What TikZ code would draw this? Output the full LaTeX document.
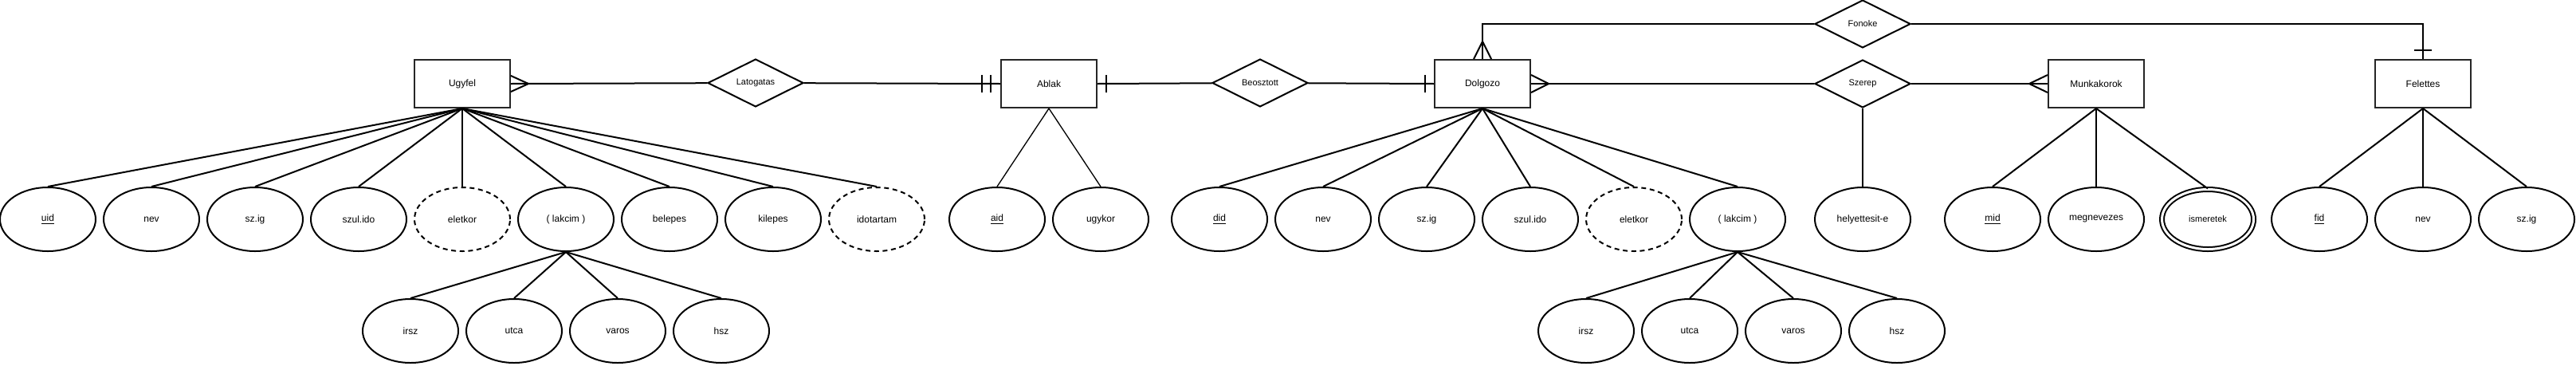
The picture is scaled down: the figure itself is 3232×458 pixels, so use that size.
\documentclass[tikz,border=0pt]{standalone}
\usepackage{fontspec}
\setmainfont{Liberation Sans}
\usetikzlibrary{shapes.geometric}

\tikzset{
  entity/.style={draw=black!85,minimum width=90pt,minimum height=45pt,inner sep=0pt,font=\fontsize{9}{11}\selectfont},
  relation/.style={diamond,draw,aspect=2,minimum width=90pt,minimum height=45pt,inner sep=0pt,font=\fontsize{8.25}{10}\selectfont},
  attrib/.style={ellipse,draw,minimum width=90pt,minimum height=60pt,inner sep=0pt,font=\fontsize{9}{11}\selectfont},
  derived/.style={attrib,dash pattern=on 4.5pt off 3.5pt},
  multival/.style={attrib,minimum width=86.25pt,minimum height=56.25pt,double,double distance=2.25pt,font=\fontsize{8.25}{10}\selectfont}
}

\begin{document}
\begin{tikzpicture}
[x=0.75pt,y=-0.75pt,line width=1.5pt,node distance=97.5pt]
 \useasboundingbox (0,0) rectangle (3232,458);

 % entities and relations
 \node[entity] (ugyfel) at (580,105) {Ugyfel};
 \node[entity] (ablak) at (1316,105) {Ablak};
 \node[entity] (dolgozo) at (1860,105) {Dolgozo};
 \node[entity] (munkakorok) at (2630,105) {Munkakorok};
 \node[entity] (felettes) at (3040,105) {Felettes};

 \node[relation] (latogatas) at (948,104) {Latogatas};
 \node[relation] (beosztott) at (1581,104) {Beosztott};
 \node[relation] (szerep) at (2337,105) {Szerep};
 \node[relation] (fonoke) at (2337,30) {Fonoke};

 % Ugyfel attributes
 \node[attrib] (uid) at (60,275) {\underline{uid}};
 \node[attrib] (unev) [right of=uid] {nev};
 \node[attrib] (uszig) [right of=unev] {sz.ig};
 \node[attrib] (uszul) [right of=uszig] {szul.ido};
 \node[derived] (ukor) [right of=uszul] {eletkor};
 \node[attrib] (ulak) [right of=ukor] {( lakcim )};
 \node[attrib] (ube) [right of=ulak] {belepes};
 \node[attrib] (uki) [right of=ube] {kilepes};
 \node[derived] (uido) [right of=uki] {idotartam};

 \node[attrib] (uirsz) at (515,415) {irsz};
 \node[attrib] (uutca) [right of=uirsz] {utca};
 \node[attrib] (uvaros) [right of=uutca] {varos};
 \node[attrib] (uhsz) [right of=uvaros] {hsz};

 % Ablak attributes
 \node[attrib] (aid) at (1251,275) {\underline{aid}};
 \node[attrib] (ugykor) [right of=aid] {ugykor};

 % Dolgozo attributes
 \node[attrib] (did) at (1530,275) {\underline{did}};
 \node[attrib] (dnev) [right of=did] {nev};
 \node[attrib] (dszig) [right of=dnev] {sz.ig};
 \node[attrib] (dszul) [right of=dszig] {szul.ido};
 \node[derived] (dkor) [right of=dszul] {eletkor};
 \node[attrib] (dlak) [right of=dkor] {( lakcim )};

 \node[attrib] (dirsz) at (1990,415) {irsz};
 \node[attrib] (dutca) [right of=dirsz] {utca};
 \node[attrib] (dvaros) [right of=dutca] {varos};
 \node[attrib] (dhsz) [right of=dvaros] {hsz};

 \node[attrib] (helyett) at (2337,275) {helyettesit-e};

 % Munkakorok and Felettes attributes
 \node[attrib] (mid) at (2500,275) {\underline{mid}};
 \node[attrib] (megnev) [right of=mid] {megnevezes};
 \node[multival] (ismeret) at (2770,275) {ismeretek};

 \node[attrib] (fid) at (2910,275) {\underline{fid}};
 \node[attrib] (fnev) [right of=fid] {nev};
 \node[attrib] (fszig) [right of=fnev] {sz.ig};

 % relationship lines
 \draw (ugyfel.east) -- (latogatas);
 \draw (latogatas) -- (ablak.west);
 \draw (ablak.east) -- (beosztott);
 \draw (beosztott) -- (dolgozo.west);
 \draw (dolgozo.east) -- (szerep);
 \draw (szerep) -- (munkakorok.west);
 \draw (dolgozo.north) |- (fonoke);
 \draw (fonoke) -| (felettes.north);
 \draw (szerep) -- (helyett);

 % crow's feet and bars
 \draw (ugyfel.east) ++(0,-10) -- ++(22,10) -- ++(-22,10);
 \draw (dolgozo.east) ++(0,-11) -- ++(22,11) -- ++(-22,11);
 \draw (munkakorok.west) ++(0,-11) -- ++(-23,11) -- ++(23,11);
 \draw (dolgozo.north) ++(-11,0) -- ++(11,-22) -- ++(11,22);
 \draw (ablak.west) ++(-12,-11) -- ++(0,22);
 \draw (ablak.west) ++(-23,-11) -- ++(0,22);
 \draw (ablak.east) ++(11,-11) -- ++(0,22);
 \draw (dolgozo.west) ++(-11,-11) -- ++(0,22);
 \draw (felettes.north) ++(-11,-11) -- ++(22,0);

 % attribute lines
 \draw (ugyfel.south) -- (uid.north);
 \draw (ugyfel.south) -- (unev.north);
 \draw (ugyfel.south) -- (uszig.north);
 \draw (ugyfel.south) -- (uszul.north);
 \draw[line width=0.8pt] (ugyfel.south) -- (ukor.north);
 \draw (ugyfel.south) -- (ulak.north);
 \draw (ugyfel.south) -- (ube.north);
 \draw (ugyfel.south) -- (uki.north);
 \draw (ugyfel.south) -- (uido.north);
 \draw (ulak.south) -- (uirsz.north);
 \draw (ulak.south) -- (uutca.north);
 \draw (ulak.south) -- (uvaros.north);
 \draw (ulak.south) -- (uhsz.north);

 \draw[line width=1pt] (ablak.south) -- (aid.north);
 \draw[line width=1pt] (ablak.south) -- (ugykor.north);

 \draw (dolgozo.south) -- (did.north);
 \draw (dolgozo.south) -- (dnev.north);
 \draw (dolgozo.south) -- (dszig.north);
 \draw (dolgozo.south) -- (dszul.north);
 \draw (dolgozo.south) -- (dkor.north);
 \draw (dolgozo.south) -- (dlak.north);
 \draw (dlak.south) -- (dirsz.north);
 \draw (dlak.south) -- (dutca.north);
 \draw (dlak.south) -- (dvaros.north);
 \draw (dlak.south) -- (dhsz.north);

 \draw (munkakorok.south) -- (mid.north);
 \draw (munkakorok.south) -- (megnev.north);
 \draw (munkakorok.south) -- (ismeret.north);
 \draw (felettes.south) -- (fid.north);
 \draw (felettes.south) -- (fnev.north);
 \draw (felettes.south) -- (fszig.north);

\end{tikzpicture}
\end{document}
